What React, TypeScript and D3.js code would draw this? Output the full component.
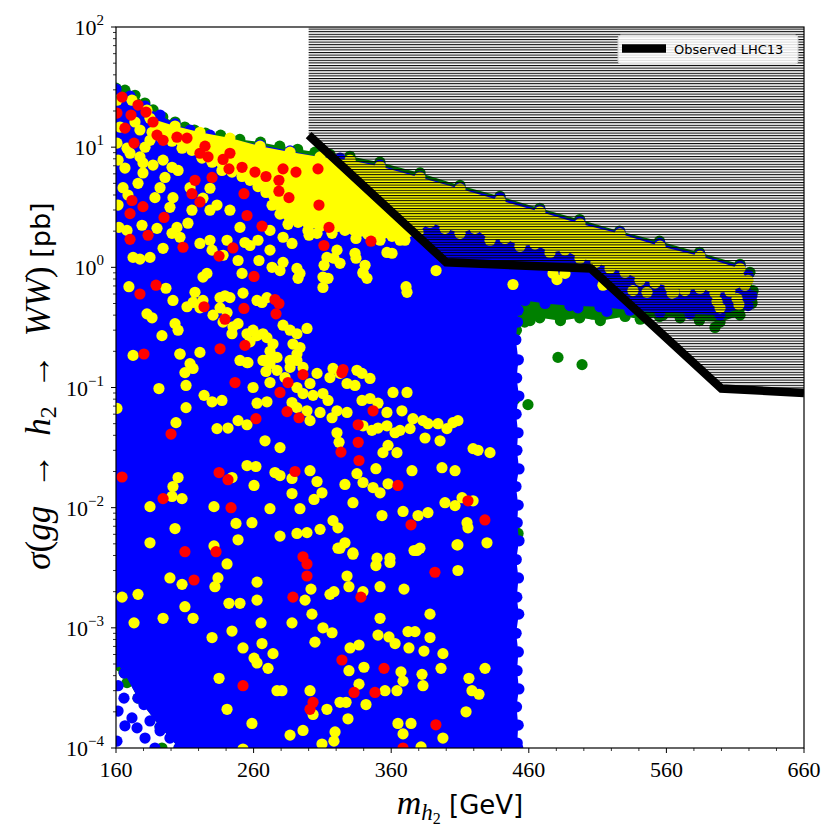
import React from "react";
import * as d3 from "d3";

// plot frame
const W = 840;
const H = 840;
const LEFT = 116;
const RIGHT = 804;
const TOP = 27;
const BOTTOM = 748;

const xTicks = [160, 260, 360, 460, 560, 660];
const yTickExps = [-4, -3, -2, -1, 0, 1, 2];

// outer (green) envelope of the dense scan region: [m_h2, sigma]
const greenEnvelope: [number, number][] = [
  [160, 31], [166.5, 29.8], [173.8, 27], [181, 23.3], [187, 20.4], [194, 17.8], [203, 16.2],
  [210, 14.7], [217, 13.9], [225, 13.1], [236, 12.6], [250, 11.6], [265, 11.0], [279, 10.2],
  [292, 9.6], [304.6, 9.1], [315.5, 8.7], [330, 8.4], [351.8, 7.5], [381, 6.1], [410, 4.8],
  [439, 3.9], [468, 3.1], [497, 2.5], [526, 2.0], [555, 1.65], [584, 1.33], [613.5, 1.06],
  [620.7, 0.91], [623, 0.64], [622, 0.5], [613.5, 0.4], [599, 0.35], [584, 0.36], [570, 0.38],
  [555, 0.39], [541, 0.37], [530, 0.39], [512, 0.36], [497, 0.38], [483, 0.36], [468, 0.38],
  [457, 0.35], [451, 0.3], [450, 0.08], [450, 1e-4], [205.8, 1e-4], [192, 1.5e-4],
  [176, 2.6e-4], [166, 4.2e-4], [160, 5.2e-4],
];

// dense blue region
const blueEnvelope: [number, number][] = [
  [160, 30.4], [170.2, 26.6], [181.1, 22.0], [192, 18.5], [202.9, 15.6], [213.8, 13.9],
  [228.3, 12.6], [242.8, 11.7], [264.7, 10.4], [286.5, 9.3], [308.3, 8.3], [322.8, 8.1],
  [351.9, 7.1], [380.9, 5.7], [410, 4.6], [439.1, 3.8], [468.1, 3.0], [497.2, 2.4],
  [526.3, 1.96], [555.3, 1.58], [584.4, 1.28], [613.5, 1.02], [619.3, 0.86], [622.2, 0.58],
  [619.3, 0.48], [598.9, 0.4], [577.1, 0.41], [555.3, 0.42], [533.5, 0.44], [511.7, 0.47],
  [489.9, 0.48], [471.8, 0.5], [457.2, 0.53], [452.2, 0.44], [451.8, 0.35], [450.6, 0.25],
  [452.4, 0.17], [451.2, 0.12], [452.8, 0.085], [450.8, 0.06], [452.2, 0.042], [451.4, 0.03],
  [452.9, 0.021], [450.7, 0.015], [452.3, 0.0105], [451.6, 0.0075], [452.9, 0.0053],
  [450.9, 0.0037], [452.5, 0.0026], [451.3, 0.0018], [452.7, 0.0013], [450.8, 0.0009],
  [452.4, 0.00063], [451.5, 0.00044], [452.8, 0.00031], [451.1, 0.00022], [452.3, 0.000155],
  [451.6, 0.00011], [452, 1e-4], [205.8, 1e-4], [192, 1.5e-4], [176, 2.6e-4],
  [166, 4.2e-4], [160, 5.2e-4],
];

// dense yellow band near the top of the scan
const yellowCore: [number, number][] = [
  [184.7, 17.4], [202.9, 15.0], [221.0, 13.3], [242.8, 11.9], [264.7, 10.2], [286.5, 9.1],
  [308.3, 8.3], [330.1, 7.8], [351.9, 6.9], [380.9, 5.6], [410.0, 4.5], [439.1, 3.6],
  [468.1, 2.9], [497.2, 2.3], [526.3, 1.9], [555.3, 1.5], [584.4, 1.24], [613.5, 0.98],
  [619.3, 0.78], [617.1, 0.71], [606.2, 0.63], [595.3, 0.61], [584.4, 0.67], [573.5, 0.64],
  [562.6, 0.69], [551.7, 0.74], [540.8, 0.78], [529.9, 0.91], [519.0, 0.98], [508.8, 1.1],
  [497.2, 1.19], [486.3, 1.39], [475.4, 1.33], [464.5, 1.56], [453.6, 1.5], [442.7, 1.74],
  [431.8, 1.68], [420.9, 2.11], [410.0, 1.92], [399.1, 2.11], [388.2, 2.37], [379.5, 1.96],
  [370.0, 1.68], [360.6, 1.81], [351.9, 1.68], [343.1, 1.88], [334.4, 1.74], [326.4, 2.03],
  [317.0, 1.92], [308.3, 2.2], [299.5, 2.03], [292.3, 2.37], [285.0, 2.28], [279.2, 2.77],
  [273.4, 3.29], [269.0, 4.2], [263.2, 4.7], [257.4, 5.3], [251.6, 5.7], [244.3, 6.2],
  [237.0, 6.4], [229.8, 7.5], [222.5, 8.1], [215.2, 9.4], [208.0, 9.8], [200.7, 11.2],
  [193.4, 11.9], [186.2, 13.3],
];

const greenPoints: [number, number][] = [
  [481.2, 0.178], [498.7, 0.155], [459.4, 0.072], [452.2, 0.0061], [448.5, 0.16],
  [444.9, 0.114], [446.3, 0.0093], [447.8, 0.0027], [444.2, 0.0013],
  [460.9, 0.36], [482.7, 0.41], [529.9, 0.41], [595.3, 0.316], [622.2, 0.51], [453.6, 0.53],
  [477.6, 0.44], [505.9, 0.41], [557.5, 0.4],
  [173.8, 0.0133], [178.9, 0.0192], [164.4, 0.0068], [181.1, 0.0046], [182.5, 0.0021],
  [173.8, 0.0013], [198.5, 0.00108], [162.9, 0.00081], [168, 0.00035], [181.1, 0.00029],
  [191.2, 0.000196], [195.6, 0.000175], [206.5, 0.000133], [193.4, 1.0e-4], [221, 0.00025],
  [224.7, 0.00046], [240.7, 0.00061], [213.8, 0.0056], [164.4, 0.00068], [162.9, 0.00048],
  [165.8, 0.00043],
];

const bluePoints: [number, number][] = [
  [165.8, 0.00071], [180.3, 0.00062], [187.6, 0.00074], [177.4, 0.0005], [171.6, 0.00044],
  [165.8, 0.00026], [181.1, 0.00041], [188.3, 0.00044], [193.4, 0.00041], [182.5, 0.00032],
  [180.3, 0.00023], [188.3, 0.00026], [171.6, 0.000178], [166.5, 0.000153], [175.3, 0.000147],
  [184.7, 0.000168], [181.1, 0.000121], [192, 0.000139], [202.2, 0.00023], [205.8, 0.000168],
  [213.1, 0.000131], [199.2, 0.000121], [188.3, 1.0e-4], [213.8, 0.000203], [160.7, 0.000114],
  [197.8, 0.0003], [208, 0.00025], [170.2, 0.00058], [161.5, 0.00033], [161.5, 0.000203],
  [495.7, 0.46], [516.8, 0.43],
];

const yellowPoints: [number, number][] = [
  [160.7, 24.6], [171.6, 24.6], [182.5, 20.3], [173.8, 16.2], [162.9, 14.7], [177.4, 13.9],
  [184.7, 11.4], [168.0, 9.8], [161.5, 7.8], [181.1, 10.0], [168.7, 4.0], [161.5, 3.3],
  [160.7, 10.8], [170.2, 8.9], [177.4, 8.3], [179.6, 7.4], [166.5, 6.7], [165.1, 4.6],
  [176.0, 5.0], [179.6, 6.1], [186.9, 7.1], [194.2, 7.8], [200.7, 6.8], [205.1, 6.4],
  [195.6, 5.6], [192.0, 4.6], [188.3, 3.8], [201.4, 3.8], [199.2, 3.16], [213.8, 4.6],
  [215.2, 2.99], [212.3, 2.33], [204.3, 2.15], [200.7, 1.92], [206.5, 1.78], [223.2, 3.76],
  [228.3, 4.55], [228.3, 2.99], [233.4, 3.3], [162.2, 2.15], [168.0, 2.03], [178.9, 2.24],
  [189.8, 2.11], [172.4, 1.21], [184.7, 1.21], [177.4, 1.17], [194.2, 1.44], [221.0, 1.58],
  [228.3, 1.68], [240.7, 1.68], [229.8, 1.39], [250.1, 2.15], [242.8, 2.99], [253.7, 1.61],
  [257.4, 1.52], [248.7, 1.14], [237.8, 1.26], [263.2, 1.68], [271.9, 2.03], [281.4, 1.78],
  [287.9, 1.58], [271.9, 1.39], [263.9, 1.14], [273.4, 1.0], [281.4, 1.1], [279.2, 0.94],
  [291.5, 0.98], [292.3, 0.81], [310.4, 0.83], [314.1, 0.81], [310.4, 0.68], [300.3, 1.85],
  [306.1, 1.92], [320.6, 1.39], [313.3, 1.21], [333.7, 1.31], [341.0, 1.04], [339.5, 0.89],
  [356.9, 1.33], [360.6, 1.31], [366.4, 1.68], [370.8, 0.69], [169.4, 0.69], [196.3, 0.67],
  [201.4, 0.53], [182.5, 0.41], [186.2, 0.38], [202.9, 0.34], [205.1, 0.3], [193.4, 0.27],
  [206.5, 0.19], [221.0, 0.196], [217.4, 0.62], [223.2, 0.83], [226.1, 0.89], [211.6, 0.47],
  [216.0, 0.51], [223.2, 0.53], [213.8, 0.158], [216.0, 0.144], [221.0, 0.46], [235.6, 0.46],
  [230.5, 0.4], [237.8, 0.35], [242.8, 0.56], [235.6, 0.56], [239.2, 0.58], [240.7, 0.42],
  [245.0, 0.32], [244.3, 0.28], [251.6, 0.89], [252.3, 0.61], [248.7, 0.34], [255.2, 0.28],
  [257.4, 0.24], [262.5, 0.53], [266.1, 0.51], [269.7, 0.56], [259.6, 0.3], [262.5, 0.27],
  [266.8, 0.28], [269.7, 0.26], [274.1, 0.23], [271.9, 0.2], [277.0, 0.178], [266.8, 0.168],
  [271.9, 0.158], [250.1, 0.168], [255.2, 0.161], [281.4, 0.33], [286.5, 0.3], [291.5, 0.28],
  [298.8, 0.31], [288.6, 0.23], [293.7, 0.215], [291.5, 0.168], [286.5, 0.147], [295.9, 0.147],
  [322.8, 1.08], [335.1, 0.139],
  [392.6, 0.94], [371.5, 0.62], [334.4, 1.19], [339.5, 0.91], [342.4, 0.81], [311.2, 1.04],
  [318.4, 1.19], [293.7, 0.89], [448.5, 0.72], [480.5, 0.79], [513.9, 0.71], [545.9, 0.62],
  [565.5, 0.62], [599.0, 0.46], [612.7, 0.49], [477.6, 0.89], [486.3, 0.89], [535.7, 0.64],
  [564.1, 0.61], [596.8, 0.52], [611.3, 0.55],
  [172.4, 0.185], [206.5, 0.19], [210.1, 0.133], [210.9, 0.104], [191.2, 0.098], [210.9, 0.068],
  [224.0, 0.086], [229.8, 0.076], [237.0, 0.078], [203.6, 0.051], [233.4, 0.0455], [241.4, 0.046],
  [248.7, 0.053], [255.2, 0.049], [262.5, 0.074], [269.7, 0.076], [268.3, 0.036], [279.2, 0.0316],
  [259.6, 0.1], [255.9, 0.161], [268.3, 0.168], [274.1, 0.178], [286.5, 0.168], [291.5, 0.19],
  [271.9, 0.11], [269.0, 0.136], [277.0, 0.139], [282.8, 0.121], [291.5, 0.1], [295.9, 0.089],
  [301.0, 0.108], [306.1, 0.131], [303.2, 0.086], [287.9, 0.075], [291.5, 0.068], [298.8, 0.064],
  [301.0, 0.053], [310.4, 0.089], [314.1, 0.078], [317.7, 0.144], [315.5, 0.121], [322.8, 0.131],
  [327.9, 0.108], [333.7, 0.104], [338.8, 0.131], [344.6, 0.119], [308.3, 0.062], [317.0, 0.056],
  [320.6, 0.064], [327.9, 0.062], [338.8, 0.078], [344.6, 0.081], [350.4, 0.074], [356.9, 0.062],
  [361.3, 0.091], [371.5, 0.091], [367.8, 0.064], [375.8, 0.055], [383.1, 0.053], [386.7, 0.05],
  [394.0, 0.05], [339.5, 0.048], [346.0, 0.044], [350.4, 0.046], [356.9, 0.048], [362.8, 0.042],
  [366.4, 0.044], [373.7, 0.0455], [384.6, 0.038], [395.5, 0.036], [400.5, 0.0455], [404.9, 0.051],
  [408.5, 0.053], [320.6, 0.042], [322.1, 0.035], [357.7, 0.033], [354.0, 0.0287], [364.2, 0.0287],
  [375.1, 0.0203], [396.9, 0.0215], [406.4, 0.0203], [419.5, 0.031], [423.1, 0.03], [431.8, 0.0287],
  [348.9, 0.0211], [335.1, 0.0192], [339.5, 0.0162], [346.8, 0.0147], [351.9, 0.0133], [357.7, 0.0158],
  [326.4, 0.0156], [332.2, 0.011], [301.0, 0.0203], [306.1, 0.0165], [309.7, 0.0133], [303.9, 0.0117],
  [287.9, 0.0175], [287.9, 0.0131], [293.7, 0.0098], [275.5, 0.0196], [279.2, 0.0185], [260.3, 0.0153],
  [271.9, 0.0098], [255.2, 0.0224], [261.7, 0.022], [244.3, 0.0178], [205.1, 0.0178], [201.4, 0.015],
  [208.0, 0.0119], [200.7, 0.0124], [184.7, 0.0102], [231.2, 0.0102], [258.8, 0.0075], [247.2, 0.0074],
  [248.7, 0.0054], [202.9, 0.0067], [184.7, 0.0051], [231.2, 0.0048], [279.2, 0.0058], [291.5, 0.0061],
  [298.8, 0.0062], [308.3, 0.0066], [317.7, 0.0078], [321.3, 0.0068], [332.2, 0.0042], [322.8, 0.0046],
  [326.4, 0.0051], [353.3, 0.0086], [368.6, 0.0093], [379.5, 0.0086], [386.7, 0.0091], [378.7, 0.0044],
  [380.9, 0.0046], [399.1, 0.011], [406.4, 0.0104], [411.5, 0.0121], [419.5, 0.0114], [415.1, 0.0075],
  [415.8, 0.0068], [407.8, 0.0049], [429.6, 0.0051], [349.7, 0.0038], [359.1, 0.0038], [160.7, 0.067],
  [240.7, 0.0034], [208.0, 0.0023], [199.2, 0.0026], [231.9, 0.0022], [234.1, 0.0026], [262.5, 0.0024],
  [164.4, 0.0018], [176.0, 0.0019], [210.1, 0.0015], [242.1, 0.0016], [250.1, 0.0016], [262.5, 0.0017],
  [216.0, 0.0012], [194.2, 0.0012], [173.1, 0.0011], [229.8, 0.00083], [244.3, 0.00094], [252.3, 0.00068],
  [265.4, 0.0011], [266.1, 0.00074], [260.3, 0.00056], [262.5, 0.00051], [274.1, 0.00061], [270.5, 0.00046],
  [234.9, 0.00038], [240.7, 0.00021], [258.8, 0.00016], [277.0, 0.0003], [280.6, 0.0003], [287.9, 0.0011],
  [301.7, 0.0021], [302.4, 0.0013], [304.6, 0.00076], [310.4, 0.001], [317.0, 0.00091], [297.4, 0.0017],
  [315.5, 0.0019], [318.4, 0.002], [321.3, 0.0046], [332.2, 0.0041], [327.9, 0.0027], [329.3, 0.0022],
  [348.9, 0.0033], [359.1, 0.0035], [351.9, 0.0022], [369.3, 0.0021], [339.5, 0.002], [351.9, 0.0012],
  [350.4, 0.00087], [358.4, 0.00084], [362.8, 0.00074], [372.9, 0.00068], [372.2, 0.00093], [377.3, 0.00093],
  [388.2, 0.0013], [388.2, 0.00083], [383.8, 0.00064], [397.6, 0.00061], [396.2, 0.00046], [428.2, 0.00046],
  [416.5, 0.00038], [418.7, 0.0003], [423.8, 0.00028], [414.4, 0.0002], [376.6, 0.0044], [408.5, 0.0049],
  [408.5, 0.003], [330.1, 0.00068], [336.6, 0.00072], [340.2, 0.00047], [329.3, 0.00044], [336.6, 0.00034],
  [367.1, 0.00043], [368.6, 0.00036], [382.4, 0.00041], [383.1, 0.00033], [355.5, 0.0003], [364.2, 0.0003],
  [301.0, 0.0003], [322.8, 0.00024], [327.2, 0.00024], [328.6, 0.000175], [341.7, 0.00023], [313.3, 0.00021],
  [303.2, 0.00019], [286.5, 0.000128], [295.9, 0.00014], [309.7, 0.000108], [318.4, 0.000114],
  [319.2, 0.000136], [364.9, 0.00016], [374.4, 0.00016], [368.6, 0.000131], [397.6, 0.000121],
  [381.7, 0.000102], [252.3, 0.000098],
];

const redPoints: [number, number][] = [
  [164.4, 26.1], [160.7, 19.2], [170.9, 18.5], [176, 22.4], [181.8, 19.6], [166.5, 14.4],
  [186.9, 16.2], [189.8, 12.6], [194.2, 11.4], [204.3, 12.1], [211.6, 11.9], [173.1, 10.8],
  [224.7, 10.2], [221, 8.9], [226.9, 8.3], [242.8, 8.9], [237.8, 7.9], [242.1, 6.6], [251.6, 6.8],
  [261, 6.2], [269, 5.7], [281.4, 6.6], [290.8, 6.2], [306.8, 6.6], [217.4, 5.3], [229.8, 5.6],
  [215.2, 4.1], [221, 3.5], [253, 4.1], [278.4, 5.3], [278.4, 4.3], [285.7, 3.8], [307.5, 3.3],
  [171.6, 3.6], [179.6, 3.2], [170.2, 2.8], [194.9, 2.6], [255.2, 2.7], [266.1, 2.2], [314.8, 2.15],
  [170.2, 1.71], [183.3, 1.85], [208.7, 1.47], [245, 1.45], [234.9, 1.24], [311.1, 1.52],
  [345.3, 1.65], [260.3, 0.84], [189.1, 0.71], [177.4, 0.6], [275.5, 0.54], [278.4, 0.5],
  [224, 0.47], [253, 0.455], [276.3, 0.41], [239.2, 0.37], [235.6, 0.21], [253.7, 0.224],
  [180.3, 0.19], [325, 0.141], [246.5, 0.11], [295.9, 0.128], [324.2, 0.133], [285, 0.11],
  [279.2, 0.091], [284.3, 0.063], [293, 0.056], [261.7, 0.055], [200, 0.041], [346.8, 0.064],
  [336, 0.049], [336, 0.035], [323.5, 0.029], [336.6, 0.0247], [164.4, 0.018], [234.9, 0.0196],
  [241.4, 0.0171], [290.1, 0.02], [364.9, 0.0153], [415.8, 0.0114], [428.1, 0.0079], [194.2, 0.0119],
  [243.6, 0.01], [374.4, 0.0072], [210.1, 0.0043], [232.7, 0.0043], [295.9, 0.0039], [298.8, 0.0034],
  [216.7, 0.0025], [298.8, 0.0027], [288.6, 0.0018], [338, 0.0018], [391.8, 0.0029], [324.2, 0.00054],
  [354.8, 0.00046], [252.3, 0.00033], [333, 0.00029], [348.2, 0.00029], [303.2, 0.00024],
  [301, 0.00021], [392.5, 0.000156], [368.6, 0.0001],
];

// observed LHC13 limit and the excluded (hatched) region above it
const lhcObserved: [number, number][] = [
  [300, 12.6], [400, 1.1], [505, 0.98], [600, 0.098], [660, 0.09],
];
const excludedTop = 100;

const COLORS = { green: "#008000", blue: "#0000ff", yellow: "#ffff00", red: "#ff0000" };
const R = 5.6;
const SERIF = "'Liberation Serif', 'DejaVu Serif', serif";
const SANS = "'DejaVu Sans', sans-serif";

const x = d3.scaleLinear().domain([160, 660]).range([LEFT, RIGHT]);
const y = d3.scaleLog().domain([1e-4, 100]).range([BOTTOM, TOP]);

const line = d3
  .line<[number, number]>()
  .x((d) => x(d[0]))
  .y((d) => y(d[1]));

const Region = ({ pts, color }: { pts: [number, number][]; color: string }) => (
  <g>
    <path d={line(pts) + "Z"} fill={color} stroke="none" />
    {pts.map((d, i) => (
      <circle key={i} cx={x(d[0])} cy={y(d[1])} r={R} fill={color} />
    ))}
  </g>
);

const Dots = ({ pts, color }: { pts: [number, number][]; color: string }) => (
  <g>
    {pts.map((d, i) => (
      <circle key={i} cx={x(d[0])} cy={y(d[1])} r={R} fill={color} />
    ))}
  </g>
);

const App = () => {
  const hatchPoly: [number, number][] = [
    [lhcObserved[0][0], excludedTop],
    [lhcObserved[lhcObserved.length - 1][0], excludedTop],
    ...lhcObserved.slice().reverse(),
  ];

  const xMinor = d3.range(160, 661, 20).filter((v) => (v - 160) % 100 !== 0);
  const yMinor: number[] = [];
  yTickExps.slice(0, -1).forEach((e) => {
    for (let k = 2; k <= 9; k++) yMinor.push(k * Math.pow(10, e));
  });

  const sp = "\u2002";

  return (
    <svg
      width={W}
      height={H}
      style={{ position: "absolute", left: 0, top: 0, background: "#fff" }}
    >
      <defs>
        <clipPath id="plot">
          <rect x={LEFT} y={TOP} width={RIGHT - LEFT} height={BOTTOM - TOP} />
        </clipPath>
        <pattern id="hatch" width={10} height={2.6} patternUnits="userSpaceOnUse">
          <rect x={0} y={0} width={10} height={1.05} fill="#000" />
        </pattern>
      </defs>

      <g clipPath="url(#plot)">
        <Dots pts={greenPoints} color={COLORS.green} />
        <Region pts={greenEnvelope} color={COLORS.green} />
        <Region pts={blueEnvelope} color={COLORS.blue} />
        <Dots pts={bluePoints} color={COLORS.blue} />
        <Region pts={yellowCore} color={COLORS.yellow} />
        <Dots pts={yellowPoints} color={COLORS.yellow} />
        <Dots pts={redPoints} color={COLORS.red} />

        <path d={line(hatchPoly) + "Z"} fill="url(#hatch)" stroke="none" />
        <path
          d={line(lhcObserved) ?? ""}
          fill="none"
          stroke="#000"
          strokeWidth={8.5}
          strokeLinejoin="miter"
        />
      </g>

      {/* frame */}
      <rect
        x={LEFT}
        y={TOP}
        width={RIGHT - LEFT}
        height={BOTTOM - TOP}
        fill="none"
        stroke="#000"
        strokeWidth={1.2}
      />

      {/* x axis */}
      {xTicks.map((t) => (
        <g key={t}>
          <line x1={x(t)} x2={x(t)} y1={BOTTOM} y2={BOTTOM + 5} stroke="#000" strokeWidth={1} />
          <text
            x={x(t)}
            y={BOTTOM + 29}
            textAnchor="middle"
            fontFamily={SERIF}
            fontSize={22}
          >
            {t}
          </text>
        </g>
      ))}
      {xMinor.map((t) => (
        <line key={t} x1={x(t)} x2={x(t)} y1={BOTTOM} y2={BOTTOM + 3} stroke="#000" strokeWidth={0.8} />
      ))}

      {/* y axis */}
      {yTickExps.map((e) => (
        <g key={e}>
          <line
            x1={LEFT - 5}
            x2={LEFT}
            y1={y(Math.pow(10, e))}
            y2={y(Math.pow(10, e))}
            stroke="#000"
            strokeWidth={1}
          />
          <text
            x={LEFT - 12}
            y={y(Math.pow(10, e)) + 8}
            textAnchor="end"
            fontFamily={SERIF}
            fontSize={22}
          >
            10
            <tspan dy={-10} fontSize={15}>
              {e < 0 ? "\u2212" + Math.abs(e) : String(e)}
            </tspan>
          </text>
        </g>
      ))}
      {yMinor.map((v, i) => (
        <line key={i} x1={LEFT - 3} x2={LEFT} y1={y(v)} y2={y(v)} stroke="#000" strokeWidth={0.8} />
      ))}

      {/* axis titles */}
      <text x={460} y={814} textAnchor="middle" fontFamily={SERIF} fontSize={34}>
        <tspan fontStyle="italic">m</tspan>
        <tspan dy={6} fontSize={23} fontStyle="italic">h</tspan>
        <tspan dy={4} fontSize={16}>2</tspan>
        <tspan dy={-10} fontFamily={SANS} fontSize={26}>{" [GeV]"}</tspan>
      </text>
      <text
        transform="translate(50,386) rotate(-90)"
        textAnchor="middle"
        fontFamily={SERIF}
        fontSize={35}
      >
        <tspan fontStyle="italic">σ</tspan>
        <tspan>(</tspan>
        <tspan fontStyle="italic">gg</tspan>
        <tspan>{sp + "\u2192" + sp}</tspan>
        <tspan fontStyle="italic">h</tspan>
        <tspan dy={6} fontSize={24}>2</tspan>
        <tspan dy={-6}>{sp + "\u2192" + sp}</tspan>
        <tspan fontStyle="italic">WW</tspan>
        <tspan>)</tspan>
        <tspan fontFamily={SANS} fontSize={27}>{" [pb]"}</tspan>
      </text>

      {/* legend */}
      <rect x={618} y={35} width={180} height={29} rx={3} fill="#fff" fillOpacity={0.85} stroke="#d0d0d0" />
      <line x1={622} x2={666} y1={48.5} y2={48.5} stroke="#000" strokeWidth={8.5} />
      <text x={674} y={53.5} fontFamily={SANS} fontSize={13}>
        Observed LHC13
      </text>
    </svg>
  );
};

export default App;
